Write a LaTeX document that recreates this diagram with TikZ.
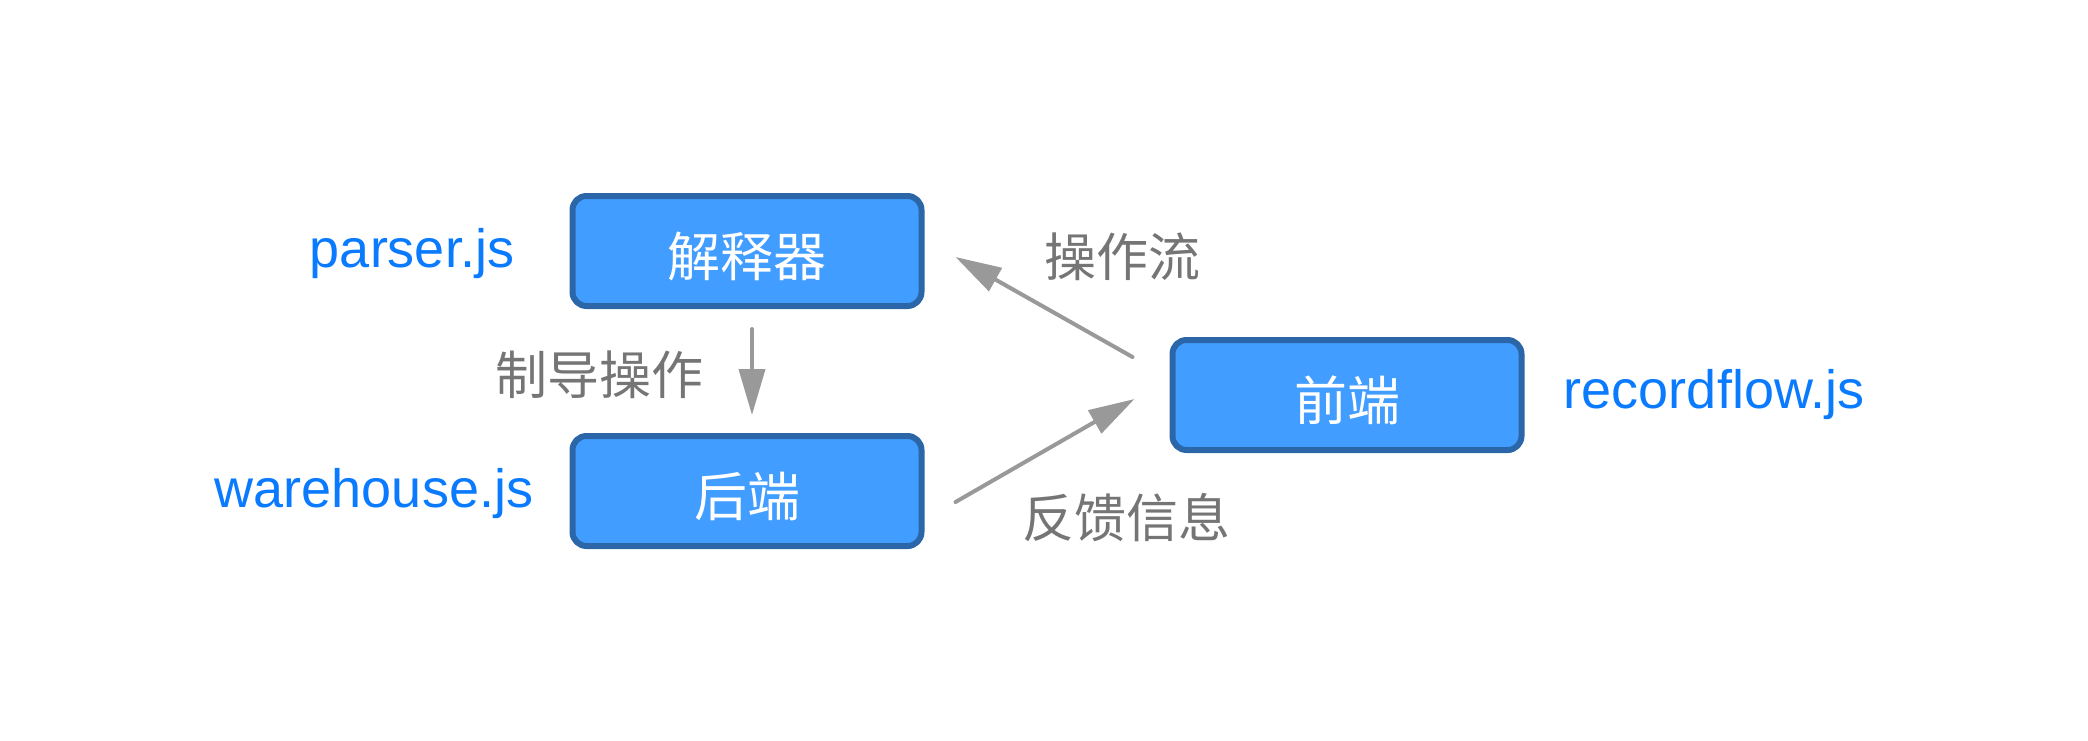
\documentclass[tikz,border=0pt]{standalone}
\usepackage{fontspec}
\setmainfont{Liberation Sans}
\newfontfamily\cjk{Noto Sans CJK SC}
\usetikzlibrary{arrows.meta}
\definecolor{boxfill}{RGB}{65,157,255}
\definecolor{boxline}{RGB}{43,103,168}
\definecolor{jsblue}{RGB}{10,122,255}
\definecolor{labelgray}{RGB}{117,117,117}
\definecolor{arrowgray}{RGB}{153,153,153}
\begin{document}
\begin{tikzpicture}[x=1pt,y=-1pt,line cap=round,line join=round,
	blk/.style={draw=boxline,fill=boxfill,line width=6pt,rounded corners=14pt,minimum width=349pt,minimum height=110pt,text height=50pt,text depth=0pt,text=white,font=\cjk\fontsize{53}{60}\selectfont},
	jsname/.style={text=jsblue,font=\fontsize{54}{62}\selectfont},
	msg/.style={text=labelgray,font=\cjk\fontsize{52}{60}\selectfont},
	flow/.style={draw=arrowgray,line width=4pt,-{Triangle[length=46pt,width=26pt]}}]
	\useasboundingbox (0,0) rectangle (2088,740);
	\node[blk] (parser) at (747,251) {解释器};
	\node[blk] (backend) at (747,491) {后端};
	\node[blk] (frontend) at (1347,395) {前端};
	\node[jsname] (parserjs) at (412,254) {parser.js};
	\node[jsname] (warehousejs) at (374,494) {warehouse.js};
	\node[jsname] (recordflowjs) at (1714,395) {recordflow.js};
	\node[msg] (guide) at (599,375) {制导操作};
	\node[msg] (opflow) at (1122,257) {操作流};
	\node[msg] (feedback) at (1126,518) {反馈信息};
	\draw[flow,shorten <=20pt,shorten >=18pt] ([xshift=5pt]parser.south) -- ([xshift=5pt]backend.north);
	\draw[flow] ([xshift=-37pt,yshift=38pt]frontend.west) -- ([xshift=31pt,yshift=-6pt]parser.east);
	\draw[flow] ([xshift=31pt,yshift=-11pt]backend.east) -- ([xshift=-35pt,yshift=-4pt]frontend.west);
\end{tikzpicture}
\end{document}
